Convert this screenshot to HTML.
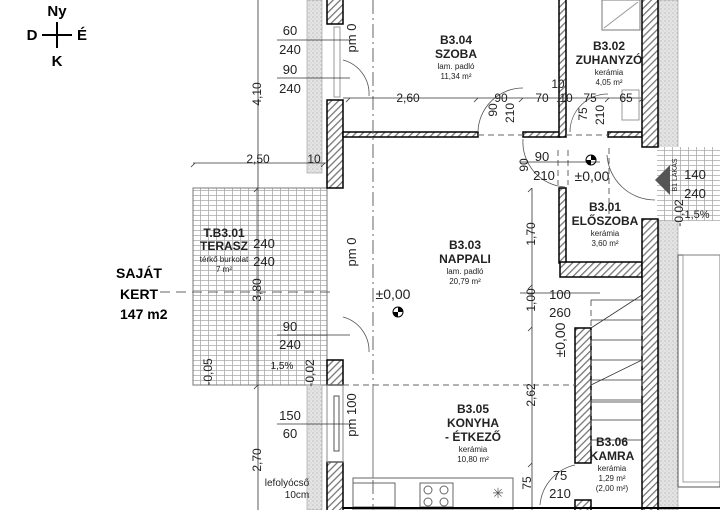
<!DOCTYPE html>
<html><head><meta charset="utf-8"><style>
html,body{margin:0;padding:0;background:#fff;}
svg{display:block;font-family:"Liberation Sans",sans-serif;}
.b{font-weight:bold;}
</style></head><body>
<svg width="720" height="510" viewBox="0 0 720 510" xmlns="http://www.w3.org/2000/svg">
<defs>
<pattern id="h" width="5" height="5" patternUnits="userSpaceOnUse" patternTransform="rotate(45)"><rect width="5" height="5" fill="#fff"/><rect x="0" y="0" width="1.3" height="5" fill="#777"/></pattern>
<pattern id="t" width="8" height="5" patternUnits="userSpaceOnUse"><rect width="8" height="5" fill="#fff"/><path d="M0 0.5H8M0.5 0V5" stroke="#aaa" stroke-width="0.8" fill="none"/></pattern>
<pattern id="s" width="4" height="4" patternUnits="userSpaceOnUse"><rect width="4" height="4" fill="#e4e4e4"/><circle cx="1" cy="1" r="0.6" fill="#aaa"/><circle cx="3" cy="3" r="0.5" fill="#bbb"/></pattern>
</defs>
<rect width="720" height="510" fill="#fff"/>

<g class="b" font-size="15" text-anchor="middle">
<text x="57" y="16">Ny</text><text x="32" y="40">D</text><text x="82" y="40">É</text><text x="57" y="66">K</text>
</g>
<path d="M57 22V48M42 35H72" stroke="#000" stroke-width="2"/>

<g class="b" font-size="14"><text x="116" y="278">SAJÁT</text><text x="120" y="299">KERT</text><text x="120" y="319">147 m2</text></g>

<rect x="193" y="188" width="134" height="197" fill="url(#t)" stroke="#777" stroke-width="1"/>

<rect x="307" y="0" width="15" height="173" fill="url(#s)" stroke="#999" stroke-width="0.6"/>
<rect x="307" y="385" width="15" height="125" fill="url(#s)" stroke="#999" stroke-width="0.6"/>
<rect x="659" y="0" width="19" height="510" fill="url(#s)" stroke="#999" stroke-width="0.6"/>
<rect x="657" y="147" width="63" height="74" fill="url(#t)"/>

<g fill="url(#h)" stroke="#000" stroke-width="1.5">
<rect x="327" y="-2" width="16" height="26"/>
<rect x="327" y="100" width="16" height="88"/>
<rect x="327" y="360" width="16" height="25"/>
<rect x="327" y="462" width="16" height="50"/>
<rect x="343" y="132" width="135" height="5"/>
<rect x="523" y="132" width="37" height="5"/>
<rect x="608" y="132" width="34" height="5"/>
<rect x="559" y="-2" width="7" height="139"/>
<rect x="559" y="188" width="7" height="75"/>
<rect x="560" y="262" width="82" height="15"/>
<rect x="642" y="-2" width="16" height="149"/>
<rect x="642" y="219" width="16" height="293"/>
<rect x="575" y="328" width="16" height="135"/>
<rect x="575" y="500" width="16" height="12"/>
</g>
<rect x="334" y="396" width="5" height="55" fill="none" stroke="#555"/>
<rect x="327" y="385" width="16" height="77" fill="none" stroke="#888"/>
<rect x="334" y="27" width="6" height="70" fill="none" stroke="#999"/>

<g fill="none" stroke="#555" stroke-width="0.8">
<path d="M343 60A35 35 0 0 1 369 96"/><path d="M343 317A35 35 0 0 1 369 352"/>
<path d="M478 132A45 45 0 0 1 523 88"/>
<path d="M523 139A45 45 0 0 0 565 187"/>
<path d="M570 132A38 38 0 0 1 608 94"/>
<path d="M607 155A48 48 0 0 0 655 200"/>
<path d="M575 465A45 45 0 0 0 540 505"/>
</g>

<g stroke="#666" stroke-width="1" stroke-dasharray="6 4" fill="none">
<path d="M373 0V510" stroke-dasharray="14 4 2 4"/>
<path d="M343 385H575"/>
<path d="M478 135H523M566 135H608"/>
<path d="M558 150V185M568 150V185"/>
<path d="M591 300V450M642 300V400"/>
<path d="M609 148V215"/>
<path d="M160 292H330" stroke-dasharray="10 6"/>
</g>

<g stroke="#333" stroke-width="0.8" fill="none">
<path d="M258 0V510"/>
<path d="M193 163H327"/>
<path d="M343 98H643"/>
<path d="M532 188V510"/>
<path d="M350 98l-4 4M478 98l-4 4M523 98l-4 4M561 98l-4 4M568 98l-4 4M609 98l-4 4M643 98l-4 4M195 163l-4 4M325 163l-4 4M258 188l-4 4M258 385l-4 4M532 188l-4 4M532 285l-4 4M532 327l-4 4M532 463l-4 4"/>
<path d="M277 40H350M277 78H350M277 335H350M277 424H350M520 293H600M520 162H600"/>
<path d="M591 300H642M591 320H642M591 340H642M591 360H642M591 380H642M591 400H642M591 402H642M591 420H642M591 440H642M591 328L642 295M591 385L642 360"/>
</g>
<rect x="678" y="255" width="42" height="232" fill="none" stroke="#555" stroke-width="1"/>
<rect x="683" y="255" width="37" height="227" fill="none" stroke="#888" stroke-width="0.8"/>
<rect x="602" y="0" width="38" height="30" fill="none" stroke="#777"/>
<path d="M604 28L638 2" stroke="#999"/>
<rect x="622" y="90" width="17" height="30" fill="none" stroke="#999"/>
<path d="M373 385V478H513V510" fill="none" stroke="#777"/>
<rect x="353" y="478" width="160" height="32" fill="none" stroke="#666"/>
<rect x="353" y="483" width="42" height="24" fill="none" stroke="#666"/>
<rect x="420" y="483" width="33" height="24" fill="none" stroke="#666"/>
<circle cx="428" cy="490" r="4" fill="none" stroke="#666"/><circle cx="444" cy="490" r="4" fill="none" stroke="#666"/><circle cx="428" cy="502" r="4" fill="none" stroke="#666"/><circle cx="444" cy="502" r="4" fill="none" stroke="#666"/>
<text x="498" y="498" font-size="14" text-anchor="middle" fill="#555">✳</text>
<path d="M343 508H720" stroke="#000" stroke-width="2"/>
<g fill="#000"><circle cx="398" cy="312" r="5" fill="none" stroke="#000"/><path d="M398 312V307A5 5 0 0 1 403 312Z M398 312V317A5 5 0 0 1 393 312Z"/>
<circle cx="591" cy="160" r="5" fill="none" stroke="#000"/><path d="M591 160V155A5 5 0 0 1 596 160Z M591 160V165A5 5 0 0 1 586 160Z"/>
<path d="M655 180L670 165V195Z" fill="#555"/></g>

<g font-size="13" fill="#222" text-anchor="middle">
<text x="290" y="35">60</text><text x="290" y="54">240</text><text x="290" y="74">90</text><text x="290" y="93">240</text>
<text x="408" y="102" font-size="12">2,60</text><text x="501" y="102" font-size="12">90</text><text x="542" y="102" font-size="12">70</text>
<text x="558" y="88" font-size="12">10</text><text x="566" y="102" font-size="12">10</text><text x="590" y="102" font-size="12">75</text><text x="626" y="102" font-size="12">65</text>
<text x="258" y="163" font-size="12">2,50</text><text x="314" y="163" font-size="12">10</text>
<text x="264" y="248">240</text><text x="264" y="266">240</text>
<text x="290" y="331">90</text><text x="290" y="349">240</text>
<text x="290" y="420">150</text><text x="290" y="438">60</text>
<text x="542" y="161">90</text><text x="544" y="180">210</text>
<text x="592" y="181" font-size="14">±0,00</text>
<text x="393" y="299" font-size="14">±0,00</text>
<text x="560" y="299">100</text><text x="560" y="317">260</text>
<text x="560" y="480">75</text><text x="560" y="498">210</text>
<text x="695" y="179">140</text><text x="695" y="198">240</text>
<text x="697" y="218" font-size="11">1,5%</text>
<text x="282" y="369" font-size="10">1,5%</text>
<text x="287" y="486" font-size="10">lefolyócső</text><text x="297" y="498" font-size="10">10cm</text>
</g>
<g font-size="12" fill="#222" text-anchor="middle">
<text transform="translate(261,94) rotate(-90)">4,10</text>
<text transform="translate(261,290) rotate(-90)">3,80</text>
<text transform="translate(261,460) rotate(-90)">2,70</text>
<text transform="translate(356,38) rotate(-90)" font-size="13">pm 0</text>
<text transform="translate(356,252) rotate(-90)" font-size="13">pm 0</text>
<text transform="translate(356,415) rotate(-90)" font-size="13">pm 100</text>
<text transform="translate(497,110) rotate(-90)">90</text><text transform="translate(514,113) rotate(-90)">210</text>
<text transform="translate(587,114) rotate(-90)">75</text><text transform="translate(604,115) rotate(-90)">210</text>
<text transform="translate(528,165) rotate(-90)">90</text>
<text transform="translate(535,234) rotate(-90)">1,70</text>
<text transform="translate(535,300) rotate(-90)">1,00</text>
<text transform="translate(535,395) rotate(-90)">2,62</text>
<text transform="translate(531,483) rotate(-90)">75</text>
<text transform="translate(565,340) rotate(-90)" font-size="14">±0,00</text>
<text transform="translate(212,372) rotate(-90)">-0,05</text>
<text transform="translate(314,373) rotate(-90)">-0,02</text>
<text transform="translate(683,213) rotate(-90)">-0,02</text>
<text transform="translate(677,175) rotate(-90)" font-size="7">B1 LAKÁS</text>
</g>
<g text-anchor="middle" fill="#222">
<g class="b" font-size="12"><text x="456" y="44">B3.04</text><text x="456" y="58">SZOBA</text></g>
<text x="456" y="69" font-size="8">lam. padló</text><text x="456" y="79" font-size="8">11,34 m²</text>
<g class="b" font-size="12"><text x="609" y="50">B3.02</text><text x="609" y="64">ZUHANYZÓ</text></g>
<text x="609" y="75" font-size="8">kerámia</text><text x="609" y="85" font-size="8">4,05 m²</text>
<g class="b" font-size="12"><text x="605" y="211">B3.01</text><text x="605" y="225">ELŐSZOBA</text></g>
<text x="605" y="236" font-size="8">kerámia</text><text x="605" y="246" font-size="8">3,60 m²</text>
<g class="b" font-size="12"><text x="465" y="249">B3.03</text><text x="465" y="263">NAPPALI</text></g>
<text x="465" y="274" font-size="8">lam. padló</text><text x="465" y="284" font-size="8">20,79 m²</text>
<g class="b" font-size="12"><text x="473" y="413">B3.05</text><text x="473" y="427">KONYHA</text><text x="473" y="441">- ÉTKEZŐ</text></g>
<text x="473" y="452" font-size="8">kerámia</text><text x="473" y="462" font-size="8">10,80 m²</text>
<g class="b" font-size="12"><text x="612" y="446">B3.06</text><text x="612" y="460">KAMRA</text></g>
<text x="612" y="471" font-size="8">kerámia</text><text x="612" y="481" font-size="8">1,29 m²</text><text x="612" y="491" font-size="8">(2,00 m²)</text>
<g class="b" font-size="12"><text x="224" y="237">T.B3.01</text><text x="224" y="250">TERASZ</text></g>
<text x="224" y="262" font-size="8">térkő burkolat</text><text x="224" y="272" font-size="8">7 m²</text>
</g>
</svg>
</body></html>
